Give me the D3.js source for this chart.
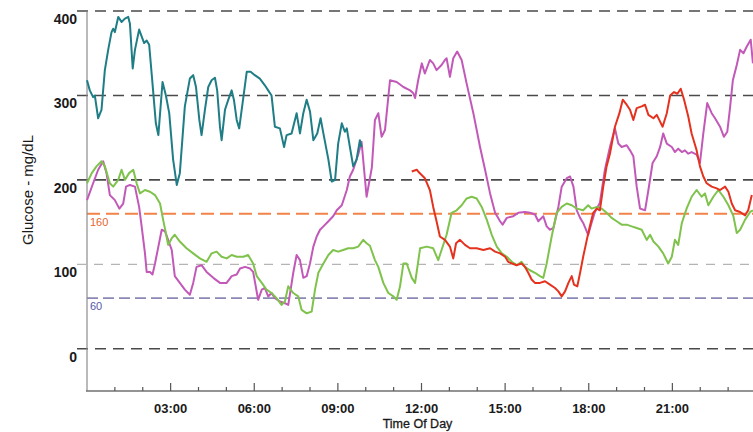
<!DOCTYPE html>
<html>
<head>
<meta charset="utf-8">
<script src="https://cdn.jsdelivr.net/npm/d3@7"></script>
<style>
  html, body { margin: 0; padding: 0; background: #fff; }
  svg { display: block; }
</style>
</head>
<body>
<svg id="chart" width="753" height="432"></svg>
<script>
// ---- DATA (hour of day, glucose mg/dL) ----
const yTicks = [0, 100, 200, 300, 400];
const xTickLabels = ["03:00", "06:00", "09:00", "12:00", "15:00", "18:00", "21:00"];
const xMajorHours = [3, 6, 9, 12, 15, 18, 21];
const xMinorHours = [1, 2, 4, 5, 7, 8, 10, 11, 13, 14, 16, 17, 19, 20, 22, 23];
const targetHigh = 160;
const targetLow = 60;

const tealSeries = [[0,318],[0.10,306],[0.22,298],[0.28,300],[0.40,273],[0.52,283],[0.64,330],[0.76,354],[0.88,375],[0.94,379],[1.00,375],[1.12,393],[1.24,387],[1.36,391],[1.48,393],[1.54,385],[1.64,332],[1.72,354],[1.87,378],[1.96,370],[2.05,362],[2.14,365],[2.23,360],[2.35,314],[2.47,267],[2.56,253],[2.71,316],[2.83,300],[2.95,279],[3.09,224],[3.22,194],[3.33,208],[3.51,287],[3.69,320],[3.81,324],[3.91,310],[4.03,271],[4.11,253],[4.23,283],[4.35,310],[4.47,318],[4.59,321],[4.67,306],[4.77,263],[4.83,247],[4.95,283],[5.07,295],[5.19,306],[5.27,295],[5.37,271],[5.46,261],[5.61,298],[5.73,328],[5.87,328],[6.02,324],[6.20,320],[6.38,312],[6.50,306],[6.62,300],[6.74,263],[6.92,261],[7.07,239],[7.16,253],[7.34,255],[7.52,279],[7.64,255],[7.76,279],[7.88,295],[8.00,281],[8.12,247],[8.26,255],[8.38,273],[8.48,255],[8.66,224],[8.78,198],[8.90,200],[9.01,243],[9.14,267],[9.25,257],[9.32,261],[9.43,239],[9.55,216],[9.67,224],[9.79,247],[9.85,239]];

const magentaSeries = [[0,176],[0.22,196],[0.40,212],[0.58,222],[0.70,208],[0.82,182],[1.00,176],[1.16,166],[1.30,172],[1.40,192],[1.54,194],[1.72,192],[1.87,168],[1.96,145],[2.08,113],[2.14,91],[2.26,91],[2.35,88],[2.44,101],[2.56,121],[2.68,141],[2.80,139],[2.91,129],[3.04,117],[3.15,86],[3.33,78],[3.51,70],[3.69,64],[3.81,78],[3.93,97],[4.11,99],[4.29,91],[4.53,84],[4.77,78],[5.01,78],[5.19,86],[5.37,88],[5.49,95],[5.67,97],[5.85,95],[5.96,91],[6.14,58],[6.27,70],[6.38,72],[6.50,62],[6.62,66],[6.74,60],[6.92,56],[7.10,54],[7.22,52],[7.40,90],[7.52,111],[7.64,105],[7.76,84],[7.88,86],[8.00,101],[8.12,121],[8.24,133],[8.36,141],[8.48,145],[8.66,151],[8.83,157],[8.96,164],[9.14,170],[9.32,188],[9.43,204],[9.55,212],[9.73,230],[9.85,245],[10.03,180],[10.22,215],[10.33,271],[10.45,279],[10.57,251],[10.69,259],[10.87,318],[11.11,316],[11.35,310],[11.59,306],[11.70,303],[11.77,297],[11.88,318],[12.01,338],[12.12,326],[12.30,342],[12.42,338],[12.54,330],[12.72,336],[12.84,342],[12.90,344],[13.02,322],[13.14,344],[13.28,352],[13.44,342],[13.62,314],[13.86,279],[14.10,239],[14.28,212],[14.46,184],[14.64,161],[14.82,151],[14.91,147],[15.06,155],[15.29,157],[15.47,161],[15.71,162],[15.89,161],[16.07,159],[16.19,151],[16.37,157],[16.49,145],[16.61,141],[16.73,143],[16.91,168],[17.03,192],[17.21,202],[17.33,204],[17.45,192],[17.57,164],[17.69,155],[17.80,149],[17.98,135],[18.10,149],[18.22,162],[18.40,173],[18.58,212],[18.76,239],[18.94,261],[19.06,243],[19.18,239],[19.36,241],[19.48,235],[19.60,228],[19.72,192],[19.84,166],[20.02,164],[20.14,188],[20.29,220],[20.44,228],[20.56,239],[20.67,255],[20.80,243],[20.98,239],[21.09,233],[21.21,237],[21.34,233],[21.45,235],[21.57,231],[21.69,233],[21.87,230],[21.99,220],[22.11,255],[22.25,291],[22.41,279],[22.53,273],[22.71,263],[22.85,251],[22.97,257],[23.07,286],[23.17,318],[23.31,336],[23.43,354],[23.55,350],[23.67,358],[23.81,366],[23.89,338]];

const greenSeries = [[0,196],[0.17,208],[0.34,216],[0.52,222],[0.64,216],[0.82,196],[0.94,192],[1.12,200],[1.24,212],[1.36,200],[1.51,208],[1.66,212],[1.78,196],[1.90,184],[2.08,188],[2.26,186],[2.44,182],[2.62,172],[2.73,153],[2.83,137],[2.91,123],[3.04,131],[3.15,135],[3.33,127],[3.57,119],[3.81,113],[4.05,107],[4.29,103],[4.47,113],[4.65,115],[4.83,109],[5.01,107],[5.19,111],[5.37,109],[5.61,109],[5.78,111],[5.96,101],[6.09,86],[6.27,78],[6.44,70],[6.62,66],[6.80,60],[6.98,52],[7.10,56],[7.22,74],[7.40,66],[7.58,62],[7.70,46],[7.88,42],[8.06,44],[8.18,70],[8.30,90],[8.48,101],[8.66,111],[8.83,117],[9.01,115],[9.19,117],[9.37,119],[9.55,119],[9.73,121],[9.91,129],[10.03,125],[10.15,122],[10.33,105],[10.45,97],[10.63,78],[10.81,66],[10.99,62],[11.11,58],[11.23,74],[11.35,101],[11.47,101],[11.65,84],[11.77,78],[11.95,119],[12.19,121],[12.42,119],[12.60,105],[12.72,117],[12.90,135],[13.08,161],[13.26,164],[13.44,170],[13.62,178],[13.80,180],[13.98,178],[14.16,168],[14.34,153],[14.52,135],[14.70,121],[14.88,113],[15.06,109],[15.24,103],[15.42,99],[15.59,103],[15.71,97],[15.89,93],[16.07,90],[16.25,86],[16.37,84],[16.49,101],[16.67,133],[16.85,161],[17.03,168],[17.21,172],[17.39,170],[17.57,166],[17.80,164],[17.98,170],[18.10,166],[18.29,168],[18.46,166],[18.64,161],[18.82,155],[19.00,151],[19.18,147],[19.36,147],[19.54,145],[19.72,143],[19.90,141],[20.08,129],[20.20,135],[20.32,127],[20.50,121],[20.67,113],[20.85,101],[20.98,109],[21.09,129],[21.21,123],[21.34,149],[21.51,166],[21.69,180],[21.87,188],[22.05,180],[22.17,184],[22.29,170],[22.47,180],[22.65,188],[22.83,180],[23.01,170],[23.19,157],[23.31,137],[23.43,141],[23.61,153],[23.79,162],[23.89,164]];

const redSeries = [[11.65,210],[11.83,212],[11.88,210],[12.12,202],[12.30,188],[12.42,168],[12.54,151],[12.66,133],[12.84,129],[13.02,121],[13.14,107],[13.24,125],[13.38,129],[13.56,123],[13.74,119],[13.98,119],[14.22,117],[14.46,119],[14.64,115],[14.82,113],[15.00,109],[15.11,103],[15.24,101],[15.42,99],[15.59,101],[15.71,97],[15.83,90],[15.95,82],[16.07,78],[16.25,78],[16.43,80],[16.61,76],[16.79,72],[16.91,68],[17.03,62],[17.15,68],[17.27,78],[17.39,86],[17.47,76],[17.59,74],[17.69,90],[17.80,109],[17.93,129],[18.04,145],[18.16,161],[18.29,166],[18.40,164],[18.52,192],[18.64,216],[18.76,231],[18.94,263],[19.10,279],[19.22,295],[19.36,289],[19.48,283],[19.60,271],[19.72,285],[19.90,287],[20.02,289],[20.14,277],[20.32,273],[20.44,277],[20.56,269],[20.65,263],[20.80,279],[20.92,300],[21.06,304],[21.18,302],[21.30,308],[21.42,295],[21.57,275],[21.69,255],[21.87,235],[21.99,216],[22.11,204],[22.23,196],[22.41,192],[22.59,190],[22.71,188],[22.89,192],[23.01,186],[23.13,172],[23.25,164],[23.43,162],[23.61,158],[23.72,164],[23.85,182]];

// ---- CHART ----
const svg = d3.select("#chart");
const W = 753;
const mLeft = 87, mTop = 11, mBottom = 391;
const FONT = "Liberation Sans, Arial, sans-serif";

const x = d3.scaleLinear().domain([0, 24]).range([mLeft, 756]);
const y = d3.scaleLinear().domain([-50, 400]).range([mBottom, mTop]);

// horizontal gridlines
const grid = svg.append("g");
yTicks.forEach(v => {
  const light = v === 100;
  grid.append("line")
    .attr("x1", 77).attr("x2", W)
    .attr("y1", y(v)).attr("y2", y(v))
    .attr("stroke", light ? "#b4b4b4" : "#4a4a4a")
    .attr("stroke-width", light ? 1.3 : 1.6)
    .attr("stroke-dasharray", light ? "9,8" : "11,7");
});

// target lines
grid.append("line")
  .attr("x1", mLeft).attr("x2", W)
  .attr("y1", y(targetHigh)).attr("y2", y(targetHigh))
  .attr("stroke", "#f2824a").attr("stroke-width", 2)
  .attr("stroke-dasharray", "13,6");
grid.append("line")
  .attr("x1", mLeft).attr("x2", W)
  .attr("y1", y(targetLow)).attr("y2", y(targetLow))
  .attr("stroke", "#8a88b4").attr("stroke-width", 1.8)
  .attr("stroke-dasharray", "11,5");

svg.append("text")
  .attr("x", mLeft + 3).attr("y", y(targetHigh) + 12)
  .attr("font-family", FONT)
  .attr("font-size", 11).attr("fill", "#e8632e")
  .text(String(targetHigh));
svg.append("text")
  .attr("x", mLeft + 3).attr("y", y(targetLow) + 12)
  .attr("font-family", FONT)
  .attr("font-size", 11).attr("fill", "#5656a8")
  .text(String(targetLow));

// axes lines
svg.append("line")
  .attr("x1", mLeft).attr("x2", mLeft).attr("y1", mTop).attr("y2", mBottom)
  .attr("stroke", "#8c8c8c").attr("stroke-width", 1.2);

const xAxisG = svg.append("g").attr("transform", `translate(0,${mBottom})`);
xAxisG.append("line").attr("x1", mLeft - 1).attr("x2", W)
  .attr("stroke", "#707070").attr("stroke-width", 1.4);
xAxisG.selectAll("line.minor").data(xMinorHours).join("line")
  .attr("class", "minor")
  .attr("x1", d => x(d)).attr("x2", d => x(d))
  .attr("y1", 0).attr("y2", -4)
  .attr("stroke", "#555").attr("stroke-width", 1.2);
xAxisG.selectAll("line.major").data(xMajorHours).join("line")
  .attr("class", "major")
  .attr("x1", d => x(d)).attr("x2", d => x(d))
  .attr("y1", 0).attr("y2", -8)
  .attr("stroke", "#555").attr("stroke-width", 1.2);
xAxisG.selectAll("text").data(xMajorHours).join("text")
  .attr("x", d => x(d)).attr("y", 22)
  .attr("text-anchor", "middle")
  .attr("font-family", FONT)
  .attr("font-size", 13).attr("font-weight", "bold").attr("fill", "#1a1a1a")
  .text((d, i) => xTickLabels[i]);

svg.append("text")
  .attr("x", x(12) - 4).attr("y", 428)
  .attr("text-anchor", "middle")
  .attr("font-family", FONT)
  .attr("font-size", 12.5).attr("fill", "#1a1a1a")
  .attr("stroke", "#1a1a1a").attr("stroke-width", 0.3)
  .text("Time Of Day");

// y tick labels
svg.append("g").selectAll("text").data(yTicks).join("text")
  .attr("x", 77).attr("y", d => y(d) + 13)
  .attr("text-anchor", "end")
  .attr("font-family", FONT)
  .attr("font-size", 14).attr("font-weight", "bold").attr("fill", "#1a1a1a")
  .text(d => d);

svg.append("text")
  .attr("transform", `translate(33,${190}) rotate(-90)`)
  .attr("text-anchor", "middle")
  .attr("font-family", FONT)
  .attr("font-size", 15).attr("fill", "#1a1a1a")
  .text("Glucose - mg/dL");

// series lines
const line = d3.line().x(d => x(d[0])).y(d => y(d[1])).curve(d3.curveLinear);
const series = [
  { data: magentaSeries, color: "#c259b8" },
  { data: greenSeries, color: "#7fc24c" },
  { data: tealSeries, color: "#1f7d86" },
  { data: redSeries, color: "#e4321e" }
];
svg.append("g").selectAll("path").data(series).join("path")
  .attr("d", d => line(d.data))
  .attr("fill", "none")
  .attr("stroke", d => d.color)
  .attr("stroke-width", 2)
  .attr("stroke-linejoin", "round");
</script>
</body>
</html>
